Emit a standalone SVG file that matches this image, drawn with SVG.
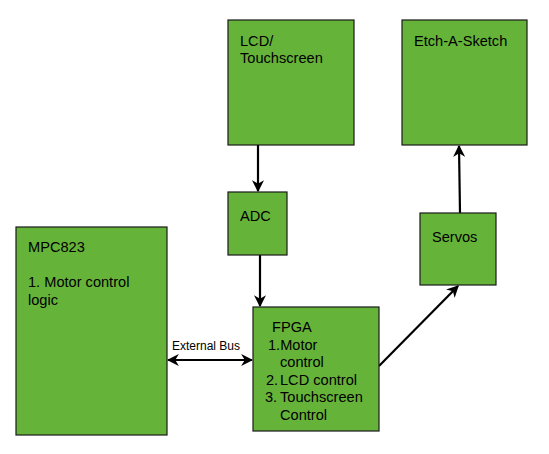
<svg xmlns="http://www.w3.org/2000/svg" width="549" height="454" viewBox="0 0 549 454">
<defs>
<style>
.box{fill:#66b33a;stroke:#1a1a1a;stroke-width:1.2}
.t{font-family:"Liberation Sans",Arial,sans-serif;font-size:14.6px;fill:#000}
.s{font-family:"Liberation Sans",Arial,sans-serif;font-size:12px;fill:#000}
.c{stroke:#000;stroke-width:2.2;fill:none}
</style>
<marker id="ah" viewBox="0 0 10 10" refX="9" refY="5" markerWidth="5.5" markerHeight="5.5" orient="auto-start-reverse" markerUnits="strokeWidth">
<path d="M0,0 L10,5 L0,10 L3,5 Z" fill="#000"/>
</marker>
</defs>
<rect width="549" height="454" fill="#fff"/>
<g id="connectors">
<line class="c" x1="258" y1="145" x2="258" y2="191" marker-end="url(#ah)"/>
<line class="c" x1="260" y1="255" x2="260" y2="306" marker-end="url(#ah)"/>
<line class="c" x1="168" y1="360" x2="252" y2="360" marker-start="url(#ah)" marker-end="url(#ah)"/>
<line class="c" x1="379" y1="366" x2="458" y2="286" marker-end="url(#ah)"/>
<line class="c" x1="460" y1="213" x2="459" y2="146" marker-end="url(#ah)"/>
<text class="s" x="172" y="350">External Bus</text>
</g>
<g id="lcd">
<rect class="box" x="228" y="20" width="126" height="125"/>
<text class="t" x="240" y="46">LCD/</text>
<text class="t" x="240" y="63">Touchscreen</text>
</g>
<g id="etch">
<rect class="box" x="402" y="20" width="125" height="125"/>
<text class="t" x="414" y="46">Etch-A-Sketch</text>
</g>
<g id="adc">
<rect class="box" x="228" y="192" width="59" height="63"/>
<text class="t" x="240" y="221">ADC</text>
</g>
<g id="servos">
<rect class="box" x="420" y="213" width="76" height="72"/>
<text class="t" x="432" y="242">Servos</text>
</g>
<g id="mpc">
<rect class="box" x="16" y="227" width="151" height="208"/>
<text class="t" x="28" y="252">MPC823</text>
<text class="t" x="28" y="287">1. Motor control</text>
<text class="t" x="28" y="305">logic</text>
</g>
<g id="fpga">
<rect class="box" x="253" y="307" width="126" height="124"/>
<text class="t" x="272" y="332">FPGA</text>
<text class="t" x="268" y="350">1.Motor</text>
<text class="t" x="280" y="367">control</text>
<text class="t" x="266" y="385">2.</text>
<text class="t" x="280" y="385">LCD control</text>
<text class="t" x="265" y="402">3.</text>
<text class="t" x="280" y="402">Touchscreen</text>
<text class="t" x="280" y="420">Control</text>
</g>
</svg>
